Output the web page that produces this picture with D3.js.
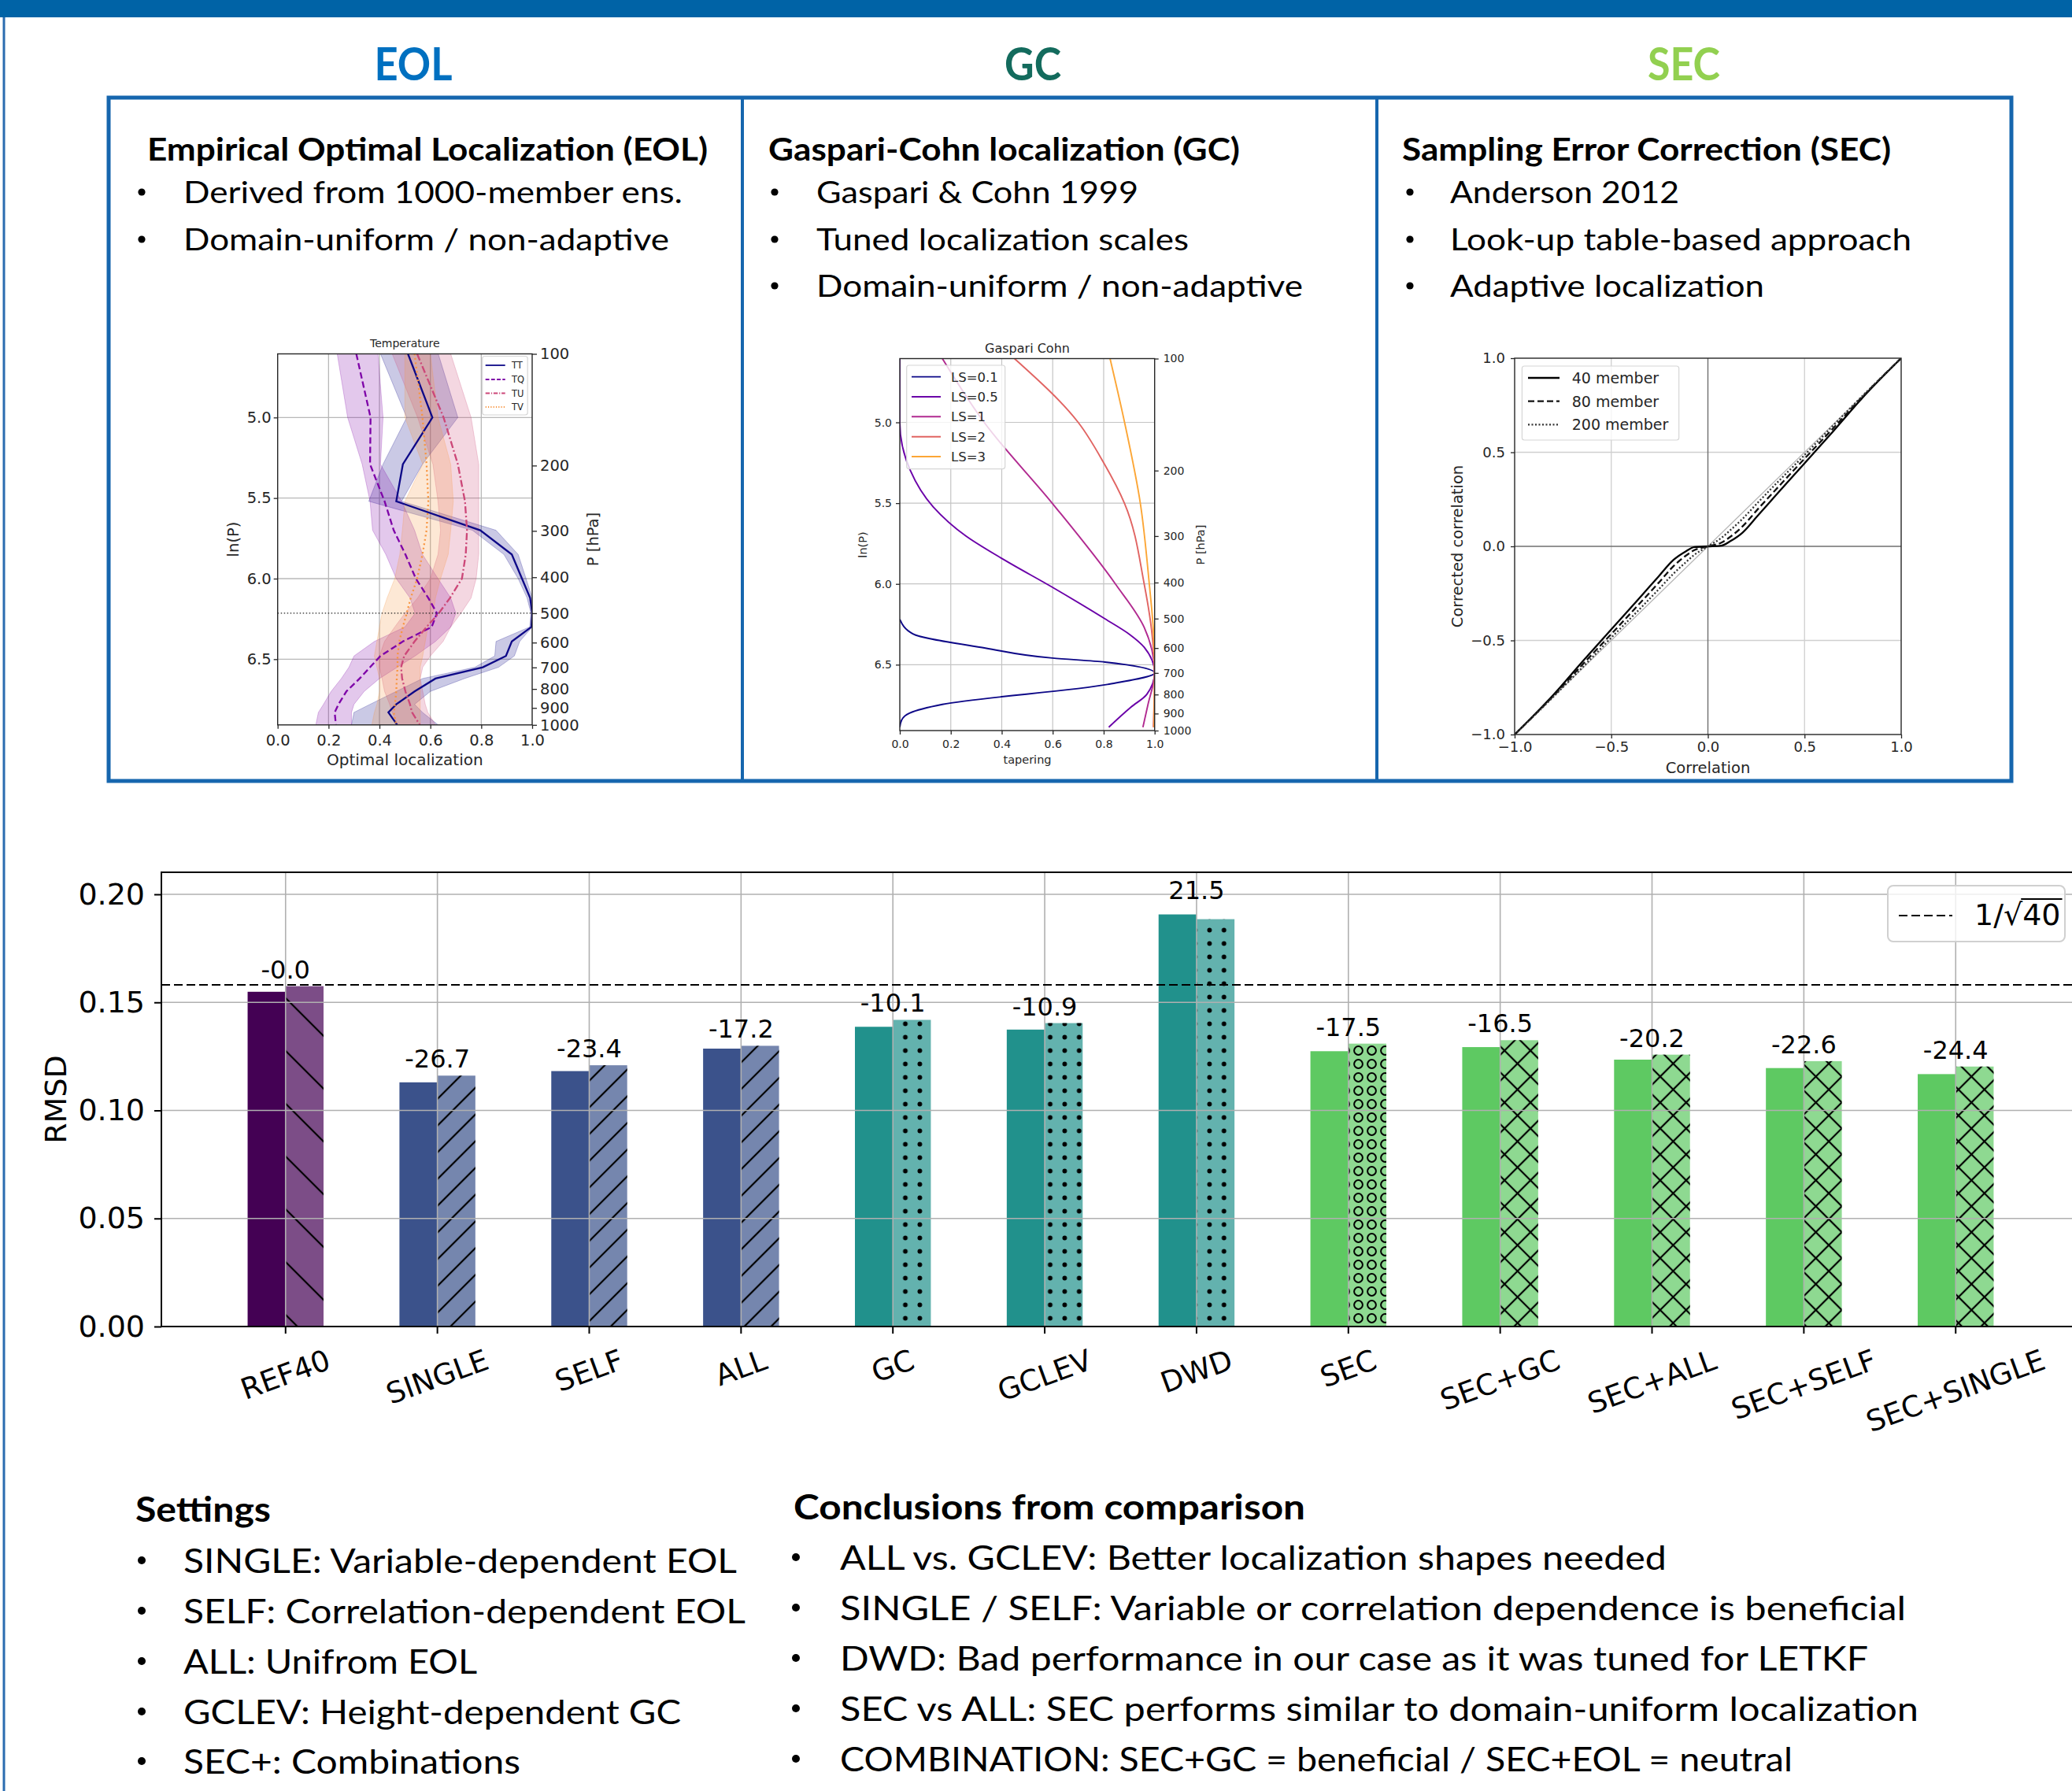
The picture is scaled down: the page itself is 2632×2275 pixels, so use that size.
<!DOCTYPE html>
<html>
<head>
<meta charset="utf-8">
<title>Localization methods: RMSD comparison</title>
<script src="https://cdn.jsdelivr.net/npm/d3@7"></script>
<style>
  body { margin: 0; background: #fff; }
  svg { display: block; }
</style>
</head>
<body>
<svg id="poster"></svg>
<script>
// ---------- poster text ----------
const panelTitles = ["EOL", "GC", "SEC"];
const panelHeadings = ["Empirical Optimal Localization (EOL)", "Gaspari-Cohn localization (GC)", "Sampling Error Correction (SEC)"];
const panelBullets = [
  ["Derived from 1000-member ens.", "Domain-uniform / non-adaptive"],
  ["Gaspari & Cohn 1999", "Tuned localization scales", "Domain-uniform / non-adaptive"],
  ["Anderson 2012", "Look-up table-based approach", "Adaptive localization"]
];
const settingsTitle = "Settings";
const settingsItems = [
  "SINGLE: Variable-dependent EOL",
  "SELF: Correlation-dependent EOL",
  "ALL: Unifrom EOL",
  "GCLEV: Height-dependent GC",
  "SEC+: Combinations"
];
const conclusionsTitle = "Conclusions from comparison";
const conclusionItems = [
  "ALL vs. GCLEV: Better localization shapes needed",
  "SINGLE / SELF: Variable or correlation dependence is beneficial",
  "DWD: Bad performance in our case as it was tuned for LETKF",
  "SEC vs ALL: SEC performs similar to domain-uniform localization",
  "COMBINATION: SEC+GC = beneficial / SEC+EOL = neutral"
];

// ---------- EOL panel (Temperature), x = optimal localization, y = ln(P) ----------
const eolLevels = [4.605, 5.0, 5.29, 5.52, 5.70, 5.85, 6.0, 6.12, 6.215, 6.30, 6.39, 6.48, 6.55, 6.62, 6.70, 6.78, 6.83, 6.908];
const eolTT   = [0.512, 0.608, 0.492, 0.466, 0.796, 0.92, 0.96, 0.992, 1.0, 0.997, 0.92, 0.897, 0.806, 0.62, 0.538, 0.466, 0.435, 0.47];
const eolTTlo = [0.404, 0.507, 0.414, 0.358, 0.765, 0.889, 0.945, 0.98, 0.995, 0.99, 0.858, 0.853, 0.775, 0.569, 0.466, 0.363, 0.30, 0.29];
const eolTThi = [0.631, 0.708, 0.569, 0.487, 0.858, 0.945, 0.976, 1.0, 1.0, 1.0, 0.951, 0.93, 0.868, 0.734, 0.60, 0.538, 0.569, 0.631];
const eolTQ   = [0.309, 0.365, 0.363, 0.42, 0.456, 0.502, 0.543, 0.592, 0.626, 0.605, 0.492, 0.404, 0.363, 0.322, 0.27, 0.239, 0.224, 0.229];
const eolTQlo = [0.234, 0.275, 0.332, 0.363, 0.373, 0.425, 0.466, 0.52, 0.54, 0.50, 0.38, 0.30, 0.28, 0.25, 0.21, 0.18, 0.16, 0.15];
const eolTQhi = [0.394, 0.414, 0.404, 0.487, 0.538, 0.569, 0.63, 0.68, 0.70, 0.68, 0.62, 0.54, 0.47, 0.40, 0.34, 0.30, 0.29, 0.29];
const eolTU   = [0.548, 0.652, 0.708, 0.736, 0.744, 0.739, 0.724, 0.677, 0.633, 0.585, 0.538, 0.497, 0.485, 0.489, 0.502, 0.52, 0.528, 0.559];
const eolTUlo = [0.45, 0.55, 0.61, 0.63, 0.64, 0.63, 0.60, 0.55, 0.50, 0.46, 0.42, 0.40, 0.40, 0.41, 0.42, 0.44, 0.45, 0.47];
const eolTUhi = [0.68, 0.76, 0.79, 0.79, 0.79, 0.79, 0.78, 0.76, 0.72, 0.68, 0.65, 0.60, 0.57, 0.56, 0.57, 0.58, 0.59, 0.62];
const eolTV   = [0.538, 0.569, 0.585, 0.592, 0.585, 0.569, 0.548, 0.523, 0.507, 0.492, 0.478, 0.471, 0.471, 0.468, 0.466, 0.461, 0.456, 0.466];
const eolTVlo = [0.50, 0.50, 0.57, 0.50, 0.49, 0.48, 0.46, 0.43, 0.41, 0.40, 0.39, 0.38, 0.39, 0.40, 0.40, 0.39, 0.38, 0.37];
const eolTVhi = [0.60, 0.63, 0.68, 0.69, 0.68, 0.67, 0.64, 0.62, 0.61, 0.59, 0.58, 0.57, 0.56, 0.56, 0.56, 0.56, 0.56, 0.56];
const eolNames = ["TT", "TQ", "TU", "TV"];
const pressureTicks = [100, 200, 300, 400, 500, 600, 700, 800, 900, 1000];
const lnpTicks = [5.0, 5.5, 6.0, 6.5];
const unitTicks = [0, 0.2, 0.4, 0.6, 0.8, 1.0];

// ---------- GC panel: [tapering, ln(P)] ----------
const gcNames = ["LS=0.1", "LS=0.5", "LS=1", "LS=2", "LS=3"];
const gcLS01 = [[0, 6.219], [0.051, 6.309], [0.336, 6.397], [0.599, 6.459], [0.805, 6.484], [1, 6.551], [0.815, 6.622], [0.167, 6.746], [0.038, 6.80], [0.007, 6.843], [0, 6.887]];
const gcLS05 = [[0, 4.605], [0, 5.0], [0.041, 5.297], [0.131, 5.523], [0.259, 5.703], [0.403, 5.845], [0.599, 6.021], [0.805, 6.216], [0.902, 6.313], [0.959, 6.392], [1, 6.551], [0.969, 6.684], [0.907, 6.763], [0.82, 6.887]];
const gcLS1  = [[0.167, 4.605], [0.331, 5.0], [0.599, 5.502], [0.846, 6.0], [0.959, 6.269], [1, 6.551], [0.974, 6.746], [0.954, 6.887]];
const gcLS2  = [[0.45, 4.605], [0.70, 5.0], [0.80, 5.25], [0.882, 5.502], [0.959, 6.0], [0.988, 6.286], [1, 6.551], [0.995, 6.887]];
const gcLS3  = [[0.825, 4.605], [0.882, 5.0], [0.944, 5.502], [0.979, 6.0], [0.995, 6.286], [1, 6.551], [0.998, 6.887]];

// ---------- SEC panel ----------
const secCorr = [-1, -0.8, -0.646, -0.49, -0.35, -0.256, -0.178, -0.115, -0.07, 0, 0.07, 0.115, 0.178, 0.256, 0.35, 0.49, 0.646, 0.8, 1];
const sec40  = [-1, -0.79, -0.609, -0.43, -0.27, -0.161, -0.072, -0.027, -0.004, 0, 0.004, 0.027, 0.072, 0.161, 0.27, 0.43, 0.609, 0.79, 1];
const sec80  = [-1, -0.795, -0.625, -0.455, -0.30, -0.195, -0.105, -0.05, -0.02, 0, 0.02, 0.05, 0.105, 0.195, 0.30, 0.455, 0.625, 0.795, 1];
const sec200 = [-1, -0.80, -0.64, -0.475, -0.33, -0.23, -0.145, -0.085, -0.045, 0, 0.045, 0.085, 0.145, 0.23, 0.33, 0.475, 0.64, 0.80, 1];
const secNames = ["40 member", "80 member", "200 member"];
const secTicks = [-1, -0.5, 0, 0.5, 1];

// ---------- RMSD bar chart ----------
const categories = ["REF40", "SINGLE", "SELF", "ALL", "GC", "GCLEV", "DWD", "SEC", "SEC+GC", "SEC+ALL", "SEC+SELF", "SEC+SINGLE"];
const categoryGroup = ["ref", "eol", "eol", "eol", "gc", "gc", "gc", "sec", "secplus", "secplus", "secplus", "secplus"];
const rmsdPlain   = [0.1549, 0.1130, 0.1182, 0.1286, 0.1387, 0.1374, 0.1907, 0.1274, 0.1293, 0.1235, 0.1196, 0.1168];
const rmsdHatched = [0.1575, 0.1161, 0.1209, 0.1299, 0.1419, 0.1404, 0.1885, 0.1309, 0.1325, 0.1258, 0.1228, 0.1203];
const changeLabels = ["-0.0", "-26.7", "-23.4", "-17.2", "-10.1", "-10.9", "21.5", "-17.5", "-16.5", "-20.2", "-22.6", "-24.4"];
const rmsdTicks = [0, 0.05, 0.10, 0.15, 0.20];
const refLevel = 0.1581;

// =====================================================================
const W = 2632, H = 2275;
const svg = d3.select("#poster").attr("width", W).attr("height", H);
svg.append("rect").attr("width", W).attr("height", H).attr("fill", "#fff");
const defs = svg.append("defs");

const BLUE = "#0063a6";
const POSTER_FONT = "Lato, 'Open Sans', sans-serif";
const MPL_FONT = "'DejaVu Sans', sans-serif";
const INK = "#262626";

// frame
svg.append("rect").attr("x", 0).attr("y", 0).attr("width", W).attr("height", 22).attr("fill", BLUE);
svg.append("line").attr("x1", 5).attr("x2", 5).attr("y1", 22).attr("y2", H)
  .attr("stroke", "#2b6cb0").attr("stroke-width", 3);
svg.append("rect").attr("x", 138).attr("y", 124).attr("width", 2417).attr("height", 868)
  .attr("fill", "none").attr("stroke", "#1666ae").attr("stroke-width", 5);
[943, 1749].forEach(x => svg.append("line").attr("x1", x).attr("x2", x).attr("y1", 124).attr("y2", 992)
  .attr("stroke", "#1666ae").attr("stroke-width", 4));

function fitText(x, y, str, size, width, bold, color) {
  return svg.append("text")
    .attr("x", x).attr("y", y)
    .attr("font-family", POSTER_FONT)
    .attr("font-size", size)
    .attr("font-weight", bold ? 700 : 400)
    .attr("fill", color || "#000")
    .attr("textLength", width).attr("lengthAdjust", "spacingAndGlyphs")
    .text(str);
}
function bulletDot(x, y, r) {
  svg.append("circle").attr("cx", x).attr("cy", y).attr("r", r).attr("fill", "#000");
}

// panel headers
const titleLayout = [{ cx: 525, w: 99, c: "#0070c0" }, { cx: 1312, w: 72, c: "#136b5d" }, { cx: 2139, w: 92, c: "#92d050" }];
const headLayout = [{ x: 187, w: 712, dot: 180, tx: 233, ws: [634, 617] },
                    { x: 976, w: 599, dot: 984, tx: 1037, ws: [409, 473, 618] },
                    { x: 1781, w: 621, dot: 1791, tx: 1842, ws: [291, 586, 399] }];
const bulletBase = [258, 318, 377];
panelTitles.forEach((t, i) => {
  const L = titleLayout[i];
  fitText(L.cx - L.w / 2, 102, t, 58, L.w, true, L.c);
  const h = headLayout[i];
  fitText(h.x, 204, panelHeadings[i], 39.5, h.w, true);
  panelBullets[i].forEach((b, j) => {
    bulletDot(h.dot, bulletBase[j] - 14, 4.6);
    fitText(h.tx, bulletBase[j], b, 39.5, h.ws[j], false);
  });
});

// bottom text
fitText(172, 1933, settingsTitle, 44, 172, true);
const setBase = [1998, 2062, 2126, 2190, 2253];
const setW = [703, 714, 373, 632, 428];
settingsItems.forEach((s, i) => {
  bulletDot(180, setBase[i] - 16, 5);
  fitText(233, setBase[i], s, 42, setW[i], false);
});
fitText(1008, 1930, conclusionsTitle, 44, 650, true);
const conBase = [1994, 2058, 2122, 2186, 2250];
const conW = [1050, 1354, 1306, 1370, 1210];
conclusionItems.forEach((s, i) => {
  bulletDot(1011, conBase[i] - 16, 5);
  fitText(1067, conBase[i], s, 42, conW[i], false);
});

// ---------- helpers for the small matplotlib-like panels ----------
function miniAxis(g, gen, transform, fs) {
  const a = g.append("g").attr("transform", transform).call(gen.tickSizeOuter(0));
  a.attr("font-family", MPL_FONT).attr("font-size", fs);
  a.select(".domain").remove();
  a.selectAll(".tick line").attr("stroke", INK).attr("stroke-width", 1.3);
  a.selectAll(".tick text").attr("fill", INK);
  return a;
}
function miniGrid(g, x, y, xv, yv, color, sw) {
  const [x0, x1] = x.range(), [y0, y1] = y.range();
  g.append("g").selectAll("line").data(xv).join("line")
    .attr("x1", d => x(d)).attr("x2", d => x(d)).attr("y1", y0).attr("y2", y1)
    .attr("stroke", color).attr("stroke-width", sw);
  g.append("g").selectAll("line").data(yv).join("line")
    .attr("y1", d => y(d)).attr("y2", d => y(d)).attr("x1", x0).attr("x2", x1)
    .attr("stroke", color).attr("stroke-width", sw);
}
function miniFrame(g, x, y) {
  const [x0, x1] = x.range(), [y0, y1] = y.range();
  g.append("rect").attr("x", Math.min(x0, x1)).attr("y", Math.min(y0, y1))
    .attr("width", Math.abs(x1 - x0)).attr("height", Math.abs(y1 - y0))
    .attr("fill", "none").attr("stroke", INK).attr("stroke-width", 1.4);
}
function miniClip(id, x, y) {
  const [x0, x1] = x.range(), [y0, y1] = y.range();
  defs.append("clipPath").attr("id", id).append("rect")
    .attr("x", Math.min(x0, x1)).attr("y", Math.min(y0, y1))
    .attr("width", Math.abs(x1 - x0)).attr("height", Math.abs(y1 - y0));
}
function label(g, x, y, str, fs, rot, anchor) {
  return g.append("text").attr("font-family", MPL_FONT).attr("font-size", fs).attr("fill", INK)
    .attr("text-anchor", anchor || "middle")
    .attr("transform", `translate(${x},${y})` + (rot ? ` rotate(${rot})` : ""))
    .text(str);
}
function legendBox(g, x, y, w, h) {
  g.append("rect").attr("x", x).attr("y", y).attr("width", w).attr("height", h).attr("rx", 3)
    .attr("fill", "#fff").attr("fill-opacity", 0.8).attr("stroke", "#d6d6d6").attr("stroke-width", 1.2);
}

// ---------- EOL panel ----------
{
  const g = svg.append("g");
  const x = d3.scaleLinear().domain([0, 1]).range([352.7, 676]);
  const y = d3.scaleLinear().domain([Math.log(100), Math.log(1000)]).range([449.5, 920.8]);
  miniClip("clip-eol", x, y);
  miniGrid(g, x, y, [0.2, 0.4, 0.6, 0.8], lnpTicks, "#b8b8b8", 1.3);

  const series = [
    { mean: eolTT, lo: eolTTlo, hi: eolTThi },
    { mean: eolTQ, lo: eolTQlo, hi: eolTQhi },
    { mean: eolTU, lo: eolTUlo, hi: eolTUhi },
    { mean: eolTV, lo: eolTVlo, hi: eolTVhi }
  ];
  const colors = ["#0d0887", "#7e03a8", "#cc4778", "#f89540"];
  const dashes = [null, "8,4", "9,3,2,3", "2,3.5"];
  const plot = g.append("g").attr("clip-path", "url(#clip-eol)");
  const area = d3.area()
    .y((d, i) => y(eolLevels[i]))
    .x0(d => x(d[0])).x1(d => x(d[1]));
  const line = d3.line()
    .x(d => x(d)).y((d, i) => y(eolLevels[i]));
  series.forEach((s, k) => {
    plot.append("path").datum(d3.zip(s.lo, s.hi)).attr("d", area)
      .attr("fill", colors[k]).attr("fill-opacity", 0.22).attr("stroke", colors[k]).attr("stroke-opacity", 0.25);
  });
  series.forEach((s, k) => {
    plot.append("path").datum(s.mean).attr("d", line)
      .attr("fill", "none").attr("stroke", colors[k]).attr("stroke-width", 2.3)
      .attr("stroke-dasharray", dashes[k]);
  });
  plot.append("line").attr("x1", x(0)).attr("x2", x(1))
    .attr("y1", y(Math.log(500))).attr("y2", y(Math.log(500)))
    .attr("stroke", "#222").attr("stroke-width", 1.2).attr("stroke-dasharray", "1.5,2.5");
  miniFrame(g, x, y);

  miniAxis(g, d3.axisBottom(x).tickValues(unitTicks).tickFormat(d3.format(".1f")).tickSize(5).tickPadding(7), `translate(0,${y(Math.log(1000))})`, 19.5);
  miniAxis(g, d3.axisLeft(y).tickValues(lnpTicks).tickFormat(d3.format(".1f")).tickSize(5).tickPadding(3), `translate(${x(0)},0)`, 19.5);
  miniAxis(g, d3.axisRight(y).tickValues(pressureTicks.map(p => Math.log(p))).tickFormat((d, i) => pressureTicks[i]).tickSize(6).tickPadding(4), `translate(${x(1)},0)`, 19.5);

  label(g, 514.3, 441, "Temperature", 14);
  label(g, 514.3, 972, "Optimal localization", 20);
  label(g, 303, 685, "ln(P)", 19.5, -90);
  label(g, 760, 685, "P [hPa]", 19.5, -90);

  legendBox(g, 612.7, 452.5, 57.5, 74.5);
  const rows = [464, 482, 499.5, 517];
  eolNames.forEach((n, k) => {
    g.append("line").attr("x1", 616.7).attr("x2", 641.7).attr("y1", rows[k]).attr("y2", rows[k])
      .attr("stroke", colors[k]).attr("stroke-width", 1.8).attr("stroke-dasharray", dashes[k] ? dashes[k].split(",").map(v => v * 0.6).join(",") : null);
    label(g, 650, rows[k] + 4, n, 11.5, 0, "start");
  });
}

// ---------- GC panel ----------
{
  const g = svg.append("g");
  const x = d3.scaleLinear().domain([0, 1]).range([1143, 1466.7]);
  const y = d3.scaleLinear().domain([Math.log(100), Math.log(1000)]).range([455.5, 928]);
  miniClip("clip-gc", x, y);
  miniGrid(g, x, y, [0.2, 0.4, 0.6, 0.8], lnpTicks, "#c4c4c4", 1.2);
  const colors = ["#0d0887", "#6a00a8", "#b12a90", "#e16462", "#fca636"];
  const curves = [gcLS01, gcLS05, gcLS1, gcLS2, gcLS3];
  const plot = g.append("g").attr("clip-path", "url(#clip-gc)");
  const line = d3.line().x(d => x(d[0])).y(d => y(d[1])).curve(d3.curveMonotoneY);
  curves.forEach((c, k) => plot.append("path").datum(c).attr("d", line)
    .attr("fill", "none").attr("stroke", colors[k]).attr("stroke-width", 1.9));
  miniFrame(g, x, y);

  miniAxis(g, d3.axisBottom(x).tickValues(unitTicks).tickFormat(d3.format(".1f")).tickSize(5).tickPadding(7), `translate(0,${y(Math.log(1000))})`, 14);
  miniAxis(g, d3.axisLeft(y).tickValues(lnpTicks).tickFormat(d3.format(".1f")).tickSize(5).tickPadding(5), `translate(${x(0)},0)`, 14);
  miniAxis(g, d3.axisRight(y).tickValues(pressureTicks.map(p => Math.log(p))).tickFormat((d, i) => pressureTicks[i]).tickSize(5).tickPadding(6), `translate(${x(1)},0)`, 14);

  label(g, 1305, 448, "Gaspari Cohn", 16);
  label(g, 1305, 970, "tapering", 14.5);
  label(g, 1101, 692, "ln(P)", 14.5, -90);
  label(g, 1530, 692, "P [hPa]", 14.5, -90);

  legendBox(g, 1151.7, 464, 125, 131.6);
  const rows = [478.6, 504, 529.3, 554.7, 580];
  gcNames.forEach((n, k) => {
    g.append("line").attr("x1", 1158).attr("x2", 1195).attr("y1", rows[k]).attr("y2", rows[k])
      .attr("stroke", colors[k]).attr("stroke-width", 1.9);
    label(g, 1208, rows[k] + 6, n, 16.5, 0, "start");
  });
}

// ---------- SEC panel ----------
{
  const g = svg.append("g");
  const x = d3.scaleLinear().domain([-1, 1]).range([1924, 2415]);
  const y = d3.scaleLinear().domain([-1, 1]).range([933, 455]);
  miniClip("clip-sec", x, y);
  miniGrid(g, x, y, [-0.5, 0.5], [-0.5, 0.5], "#cfcfcf", 1.3);
  miniGrid(g, x, y, [0], [0], "#6f6f6f", 1.4);
  const plot = g.append("g").attr("clip-path", "url(#clip-sec)");
  plot.append("line").attr("x1", x(-1)).attr("y1", y(-1)).attr("x2", x(1)).attr("y2", y(1))
    .attr("stroke", "#b5b5b5").attr("stroke-width", 1.3);
  const curves = [sec40, sec80, sec200];
  const dashes = [null, "8,4", "2,2.5"];
  const strokes = ["#000", "#111", "#333"];
  const line = d3.line().x((d, i) => x(secCorr[i])).y(d => y(d)).curve(d3.curveMonotoneX);
  curves.forEach((c, k) => plot.append("path").datum(c).attr("d", line)
    .attr("fill", "none").attr("stroke", strokes[k]).attr("stroke-width", 2.3)
    .attr("stroke-dasharray", dashes[k]));
  miniFrame(g, x, y);

  const fmt = d => d3.format(".1f")(d).replace("-", "\u2212");
  miniAxis(g, d3.axisBottom(x).tickValues(secTicks).tickFormat(fmt).tickSize(5).tickPadding(4), `translate(0,${y(-1)})`, 18);
  miniAxis(g, d3.axisLeft(y).tickValues(secTicks).tickFormat(fmt).tickSize(5).tickPadding(7), `translate(${x(-1)},0)`, 18);

  label(g, 2169.5, 982, "Correlation", 19.5);
  label(g, 1858, 694, "Corrected correlation", 19.5, -90);

  legendBox(g, 1933.4, 465, 199.3, 94);
  const rows = [480, 509.6, 539.3];
  secNames.forEach((n, k) => {
    g.append("line").attr("x1", 1941).attr("x2", 1981).attr("y1", rows[k]).attr("y2", rows[k])
      .attr("stroke", strokes[k]).attr("stroke-width", 2.3).attr("stroke-dasharray", dashes[k]);
    label(g, 1996.7, rows[k] + 7, n, 19, 0, "start");
  });
}

// ---------- RMSD bar chart ----------
function linePattern(id, spacing, angle, cross) {
  const p = defs.append("pattern").attr("id", id).attr("patternUnits", "userSpaceOnUse")
    .attr("width", spacing).attr("height", spacing).attr("patternTransform", `rotate(${angle})`);
  p.append("line").attr("x1", spacing / 2).attr("x2", spacing / 2).attr("y1", -1).attr("y2", spacing + 1)
    .attr("stroke", "#000").attr("stroke-width", 2.2);
  if (cross) p.append("line").attr("y1", spacing / 2).attr("y2", spacing / 2).attr("x1", -1).attr("x2", spacing + 1)
    .attr("stroke", "#000").attr("stroke-width", 2.2);
}
linePattern("hatch-back", 47.4, -45, false);
linePattern("hatch-fwd", 24, 45, false);
linePattern("hatch-x", 23.3, 45, true);
defs.append("pattern").attr("id", "hatch-dot").attr("patternUnits", "userSpaceOnUse")
  .attr("width", 18.4).attr("height", 17)
  .append("circle").attr("cx", 9.2).attr("cy", 8.5).attr("r", 2.9).attr("fill", "#000");
defs.append("pattern").attr("id", "hatch-ring").attr("patternUnits", "userSpaceOnUse")
  .attr("width", 17).attr("height", 17)
  .append("circle").attr("cx", 8.5).attr("cy", 8.5).attr("r", 5.4)
  .attr("fill", "none").attr("stroke", "#000").attr("stroke-width", 2);

const groupStyle = {
  ref:     { color: "#440154", hatch: "hatch-back" },
  eol:     { color: "#3b528b", hatch: "hatch-fwd" },
  gc:      { color: "#21918c", hatch: "hatch-dot" },
  sec:     { color: "#5ec962", hatch: "hatch-ring" },
  secplus: { color: "#5ec962", hatch: "hatch-x" }
};

const bars = svg.append("g");
const bx = d3.scaleBand().domain(categories).range([205, 2642]).paddingInner(0).paddingOuter(0.318);
const by = d3.scaleLinear().domain([0, 0.2102]).range([1685, 1108]);
const step = bx.bandwidth();
const bw = step * 0.25;
const mid = c => bx(c) + step / 2;
const rows = categories.map((c, i) => ({ c, a: rmsdPlain[i], b: rmsdHatched[i], lab: changeLabels[i], st: groupStyle[categoryGroup[i]] }));

bars.append("g").selectAll("rect").data(rows).join("rect")
  .attr("x", d => mid(d.c) - bw).attr("width", bw)
  .attr("y", d => by(d.a)).attr("height", d => by(0) - by(d.a))
  .attr("fill", d => d.st.color);
bars.append("g").selectAll("rect").data(rows).join("rect")
  .attr("x", d => mid(d.c)).attr("width", bw)
  .attr("y", d => by(d.b)).attr("height", d => by(0) - by(d.b))
  .attr("fill", d => d.st.color).attr("fill-opacity", 0.7);
bars.append("g").selectAll("rect").data(rows).join("rect")
  .attr("x", d => mid(d.c)).attr("width", bw)
  .attr("y", d => by(d.b)).attr("height", d => by(0) - by(d.b))
  .attr("fill", d => `url(#${d.st.hatch})`);

// grid above the bars, like matplotlib's default
bars.append("g").selectAll("line").data(rmsdTicks).join("line")
  .attr("x1", 205).attr("x2", 2642).attr("y1", d => by(d)).attr("y2", d => by(d))
  .attr("stroke", "#b0b0b0").attr("stroke-width", 1.6);
bars.append("g").selectAll("line").data(categories).join("line")
  .attr("x1", d => mid(d)).attr("x2", d => mid(d)).attr("y1", 1108).attr("y2", 1685)
  .attr("stroke", "#b0b0b0").attr("stroke-width", 1.6);

bars.append("line").attr("x1", 205).attr("x2", 2642).attr("y1", by(refLevel)).attr("y2", by(refLevel))
  .attr("stroke", "#000").attr("stroke-width", 2.2).attr("stroke-dasharray", "11,5");

bars.append("g").selectAll("text").data(rows).join("text")
  .attr("x", d => mid(d.c)).attr("y", d => by(Math.max(d.a, d.b)) - (d.a > d.b ? 20 : 10))
  .attr("text-anchor", "middle").attr("font-family", MPL_FONT).attr("font-size", 32).attr("fill", "#000")
  .text(d => d.lab);

// spines
bars.append("path").attr("d", "M2642,1108 H205 V1685 H2642")
  .attr("fill", "none").attr("stroke", "#000").attr("stroke-width", 2);

const yAx = bars.append("g").attr("transform", "translate(205,0)")
  .call(d3.axisLeft(by).tickValues(rmsdTicks).tickFormat(d3.format(".2f")).tickSize(9).tickPadding(12).tickSizeOuter(0));
yAx.attr("font-family", MPL_FONT).attr("font-size", 38);
yAx.select(".domain").remove();
yAx.selectAll(".tick line").attr("stroke", "#000").attr("stroke-width", 2);
yAx.selectAll(".tick text").attr("fill", "#000");

const xAx = bars.append("g").attr("transform", "translate(0,1685)")
  .call(d3.axisBottom(bx).tickSize(9).tickFormat("").tickSizeOuter(0));
xAx.select(".domain").remove();
xAx.selectAll(".tick line").attr("stroke", "#000").attr("stroke-width", 2);

const xl = bars.append("g").attr("font-family", MPL_FONT).attr("font-size", 37).attr("fill", "#000");
const ang = 20 * Math.PI / 180;
categories.forEach(c => {
  const t = xl.append("text").text(c).attr("text-anchor", "middle").attr("dominant-baseline", "central");
  const w = t.node().getComputedTextLength();
  const cy = 1706 + (w * Math.sin(ang) + 37 * 1.164 * Math.cos(ang)) / 2;
  t.attr("transform", `translate(${mid(c)},${cy}) rotate(-20)`);
});

bars.append("text").attr("font-family", MPL_FONT).attr("font-size", 38).attr("fill", "#000")
  .attr("text-anchor", "middle").attr("dominant-baseline", "central")
  .attr("transform", "translate(71,1396.5) rotate(-90)").text("RMSD");

// legend
bars.append("rect").attr("x", 2398).attr("y", 1125).attr("width", 225).attr("height", 71).attr("rx", 7)
  .attr("fill", "#fff").attr("fill-opacity", 0.8).attr("stroke", "#d0d0d0").attr("stroke-width", 2);
bars.append("line").attr("x1", 2412).attr("x2", 2480).attr("y1", 1163).attr("y2", 1163)
  .attr("stroke", "#000").attr("stroke-width", 2.2).attr("stroke-dasharray", "11,5");
const lt = bars.append("text").attr("x", 2508).attr("y", 1175)
  .attr("font-family", MPL_FONT).attr("font-size", 38).attr("fill", "#000").text("1/\u221A40");
{
  const n = lt.node();
  const x0 = n.getEndPositionOfChar(2).x - 2;
  const x1 = n.getEndPositionOfChar(4).x + 2;
  bars.append("line").attr("x1", x0).attr("x2", x1).attr("y1", 1142).attr("y2", 1142)
    .attr("stroke", "#000").attr("stroke-width", 2);
}
</script>
</body>
</html>
